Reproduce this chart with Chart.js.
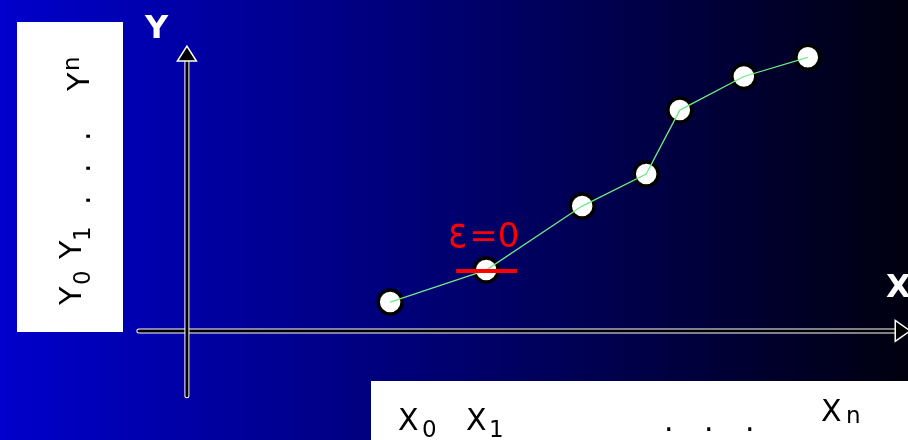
<!DOCTYPE html>
<html>
<head>
<meta charset="utf-8">
<title>Interpolation</title>
<script src="https://cdn.jsdelivr.net/npm/chart.js@4.4.0/dist/chart.umd.min.js"></script>
<style>
  body { margin: 0; background: #000; }
  #wrap { width: 908px; height: 440px; }
</style>
</head>
<body>
<div id="wrap"><canvas id="chart" width="908" height="440"></canvas></div>
<script>
// sample points (x_i, y_i) in axis units
var xValues = [6.35, 9.35, 12.35, 14.35, 15.4, 17.4, 19.4];
var yValues = [0.9, 1.9, 3.9, 4.9, 6.9, 7.95, 8.55];
// the point where the error is marked
var exactIndex = 1;
var exactLabel = "=0";

var points = xValues.map(function (x, i) {
  return { x: x, y: yValues[i] };
});

var BOX_FONT = "DejaVu Sans";

// draw text rotated 90deg counter-clockwise, (x, y) = start of baseline
function rotText(ctx, text, x, y, font) {
  ctx.save();
  ctx.translate(x, y);
  ctx.rotate(-Math.PI / 2);
  ctx.font = font;
  ctx.fillText(text, 0, 0);
  ctx.restore();
}

function axisLine(ctx, x1, y1, x2, y2) {
  ctx.save();
  ctx.lineCap = "round";
  ctx.beginPath();
  ctx.moveTo(x1, y1);
  ctx.lineTo(x2, y2);
  ctx.strokeStyle = "#ffffff";
  ctx.lineWidth = 5;
  ctx.stroke();
  ctx.strokeStyle = "#000000";
  ctx.lineWidth = 3;
  ctx.stroke();
  ctx.restore();
}

function arrowHead(ctx, pts) {
  ctx.save();
  ctx.beginPath();
  ctx.moveTo(pts[0][0], pts[0][1]);
  ctx.lineTo(pts[1][0], pts[1][1]);
  ctx.lineTo(pts[2][0], pts[2][1]);
  ctx.closePath();
  ctx.fillStyle = "#000000";
  ctx.fill();
  ctx.strokeStyle = "#ffffff";
  ctx.lineWidth = 1.5;
  ctx.stroke();
  ctx.restore();
}

var slide = {
  id: "slide",
  beforeDraw: function (chart) {
    var ctx = chart.ctx;
    var w = chart.width, h = chart.height;
    ctx.save();
    var g = ctx.createLinearGradient(0, 0, w, 0);
    g.addColorStop(0, "#0000cc");
    g.addColorStop(1, "#000010");
    ctx.fillStyle = g;
    ctx.fillRect(0, 0, w, h);

    // value boxes
    ctx.fillStyle = "#ffffff";
    ctx.fillRect(17, 22, 106, 310);
    ctx.fillRect(371, 381, 540, 62);

    ctx.fillStyle = "#000000";
    ctx.textBaseline = "alphabetic";
    // Y values, read upwards
    var big = "30px " + BOX_FONT, small = "23px " + BOX_FONT;
    rotText(ctx, "Y", 81, 305, big);
    rotText(ctx, "0", 90, 285, small);
    rotText(ctx, "Y", 81, 259, big);
    rotText(ctx, "1", 90, 241, small);
    rotText(ctx, ".", 90, 205, big);
    rotText(ctx, ".", 90, 173, big);
    rotText(ctx, ".", 90, 141, big);
    rotText(ctx, "Y", 89, 91, big);
    rotText(ctx, "n", 79, 71, small);

    // X values
    ctx.font = "30px " + BOX_FONT;
    ctx.fillText("X", 398, 430);
    ctx.fillText("X", 466, 430);
    ctx.fillText(".", 664, 431);
    ctx.fillText(".", 704, 431);
    ctx.fillText(".", 745, 431);
    ctx.fillText("X", 821, 421);
    ctx.font = "23px " + BOX_FONT;
    ctx.fillText("0", 422, 437);
    ctx.fillText("1", 489, 437);
    ctx.fillText("n", 846, 423);

    // axis names
    ctx.fillStyle = "#ffffff";
    ctx.font = "bold 32px " + BOX_FONT;
    ctx.fillText("Y", 145, 38);
    ctx.fillText("X", 886, 297);
    ctx.restore();
  },
  beforeDatasetsDraw: function (chart) {
    var ctx = chart.ctx;
    var sx = chart.scales.x, sy = chart.scales.y;
    var ox = sx.getPixelForValue(0), oy = sy.getPixelForValue(0);
    var top = sy.getPixelForValue(8.9), bottom = sy.getPixelForValue(-2.03);
    var left = sx.getPixelForValue(-1.5), right = sx.getPixelForValue(22.6);
    axisLine(ctx, left, oy, right - 15, oy);
    axisLine(ctx, ox, bottom, ox, top + 15);
    arrowHead(ctx, [[ox, top], [ox - 9.5, top + 15], [ox + 9.5, top + 15]]);
    arrowHead(ctx, [[right, oy], [right - 15, oy - 10.5], [right - 15, oy + 10.5]]);
  },
  afterDatasetsDraw: function (chart) {
    var ctx = chart.ctx;
    var px = chart.scales.x.getPixelForValue(xValues[exactIndex]);
    var py = chart.scales.y.getPixelForValue(yValues[exactIndex]);
    ctx.save();
    ctx.strokeStyle = "#ff0000";
    ctx.lineWidth = 4;
    ctx.beginPath();
    ctx.moveTo(px - 30, py + 1);
    ctx.lineTo(px + 31, py + 1);
    ctx.stroke();
    ctx.fillStyle = "#ff0000";
    // tall epsilon, then "=0"
    ctx.save();
    ctx.translate(px - 38, py - 23);
    ctx.scale(1.1, 1.35);
    ctx.font = "32px " + BOX_FONT;
    ctx.fillText("ε", 0, 0);
    ctx.restore();
    ctx.font = "34px " + BOX_FONT;
    ctx.fillText(exactLabel, px - 17, py - 23);
    ctx.restore();
  }
};

var ctx = document.getElementById("chart").getContext("2d");
var chart = new Chart(ctx, {
  type: "scatter",
  data: {
    datasets: [
      {
        // connecting polyline, kept on top of the markers
        data: points,
        showLine: true,
        borderColor: "#70e888",
        borderWidth: 1.3,
        pointRadius: 0,
        order: 0,
      },
      {
        data: points,
        showLine: false,
        pointRadius: 12,
        pointBorderWidth: 3.5,
        pointBackgroundColor: "#ffffff",
        pointBorderColor: "#000000",
        order: 1,
      },
    ],
  },
  options: {
    responsive: false,
    animation: false,
    devicePixelRatio: 1,
    layout: { padding: 0, autoPadding: false },
    plugins: { legend: { display: false }, tooltip: { enabled: false } },
    scales: {
      x: { type: "linear", display: false, min: -5.84, max: 22.53 },
      y: { type: "linear", display: false, min: -3.41, max: 10.34 },
    },
  },
  plugins: [slide],
});
</script>
</body>
</html>
